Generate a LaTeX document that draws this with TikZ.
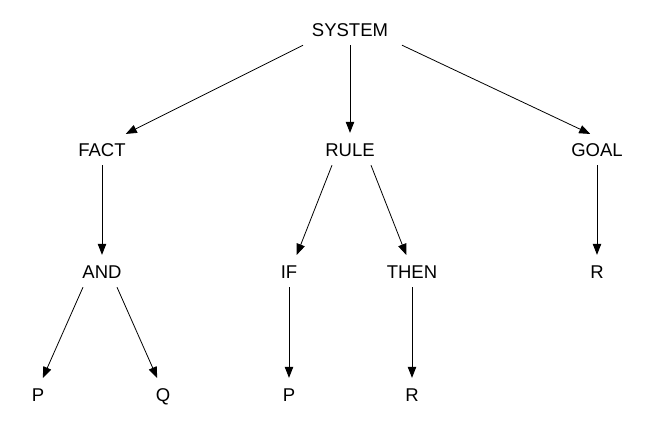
\documentclass[tikz,border=0pt]{standalone}
\usepackage{fontspec}
\setmainfont{Liberation Sans}
\usepackage{tikz}
\usetikzlibrary{arrows.meta}

\tikzset{
  lbl/.style={font=\fontsize{18.5}{20}\selectfont, text height=13pt, text depth=0pt, inner ysep=8.5pt, inner xsep=2pt},
  tree/.style={line width=0.8pt, -{Triangle[length=11pt,width=8.5pt]}, shorten >=2pt}
}

\begin{document}
\begin{tikzpicture}[x=1pt,y=-1pt]
\useasboundingbox (0,0) rectangle (654,440);
\node[lbl] (sys) at (350,30) {SYSTEM};
\node[lbl] (fact) at (102,150) {FACT};
\node[lbl] (rule) at (350,150) {RULE};
\node[lbl] (goal) at (597,150) {GOAL};
\node[lbl] (and) at (102,272) {AND};
\node[lbl] (if) at (289,272) {IF};
\node[lbl] (then) at (412,272) {THEN};
\node[lbl] (r1) at (597,272) {R};
\node[lbl] (p1) at (38,395) {P};
\node[lbl] (q) at (163,395) {Q};
\node[lbl] (p2) at (289,395) {P};
\node[lbl] (r2) at (412,395) {R};

\draw[tree] ([xshift=-47pt]sys.south) -- ([xshift=22pt]fact.north);
\draw[tree] (sys.south) -- (rule.north);
\draw[tree] ([xshift=52pt]sys.south) -- ([xshift=-5pt]goal.north);
\draw[tree] (fact.south) -- (and.north);
\draw[tree] ([xshift=-18pt]rule.south) -- ([xshift=7pt]if.north);
\draw[tree] ([xshift=21pt]rule.south) -- ([xshift=-5pt]then.north);
\draw[tree] (goal.south) -- (r1.north);
\draw[tree] ([xshift=-19pt]and.south) -- ([xshift=4pt]p1.north);
\draw[tree] ([xshift=15pt]and.south) -- ([xshift=-5pt]q.north);
\draw[tree] (if.south) -- (p2.north);
\draw[tree] (then.south) -- (r2.north);
\end{tikzpicture}
\end{document}
